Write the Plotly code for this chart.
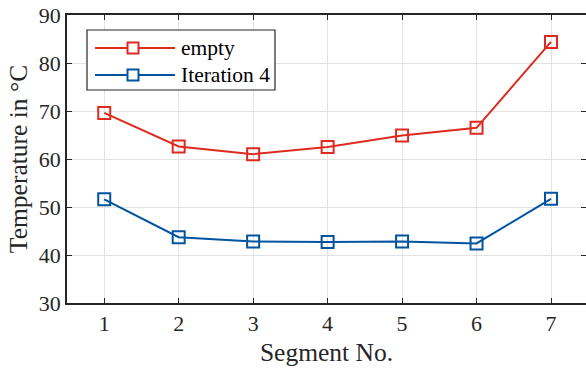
import plotly.graph_objects as go

segments = [1, 2, 3, 4, 5, 6, 7]
empty_vals = [69.6, 62.6, 61.0, 62.5, 64.9, 66.5, 84.4]
iter4_vals = [51.6, 43.7, 42.8, 42.7, 42.8, 42.4, 51.7]
series_names = ["empty", "Iteration 4"]
y_ticks = [30, 40, 50, 60, 70, 80, 90]

RED = "#DF2A20"
BLUE = "#00549F"
FONT = "Liberation Serif, Times New Roman, serif"
TXT = "#262626"

W, H = 586, 377
ML, MR, MT, MB = 67, 0, 15, 74
PW, PH = W - ML - MR, H - MT - MB

fig = go.Figure()
for vals, name, col in [(empty_vals, series_names[0], RED), (iter4_vals, series_names[1], BLUE)]:
    fig.add_trace(go.Scatter(
        x=segments, y=vals, name=name, mode="lines+markers",
        line=dict(color=col, width=2),
        marker=dict(symbol="square-open", size=12, color=col, line=dict(width=2, color=col)),
        showlegend=False,
    ))

# helpers: convert page-pixel positions to paper coords
def px_x(p):
    return (p - ML) / PW

def px_y(p):
    return (H - MB - p) / PH

shapes = []
annotations = []
shapes.append(dict(type="rect", xref="paper", yref="paper",
                   x0=px_x(87), x1=px_x(275), y0=px_y(90), y1=px_y(30),
                   line=dict(color=TXT, width=1.2), fillcolor="white", layer="above"))
for i, (name, col) in enumerate(zip(series_names, [RED, BLUE])):
    yy = 48 + i * 27
    shapes.append(dict(type="line", xref="paper", yref="paper",
                       x0=px_x(95), x1=px_x(175), y0=px_y(yy), y1=px_y(yy),
                       line=dict(color=col, width=2), layer="above"))
    shapes.append(dict(type="rect", xref="paper", yref="paper",
                       xsizemode="pixel", ysizemode="pixel",
                       xanchor=px_x(133), yanchor=px_y(yy),
                       x0=-5.5, x1=5.5, y0=-5.5, y1=5.5,
                       line=dict(color=col, width=2), fillcolor="white", layer="above"))
    annotations.append(dict(xref="paper", yref="paper", x=px_x(179), y=px_y(yy),
                            xanchor="left", yanchor="middle", text=name, showarrow=False,
                            font=dict(family=FONT, size=21.5, color="black")))

fig.update_layout(
    width=W, height=H,
    margin=dict(l=ML, r=MR, t=MT, b=MB, pad=0),
    paper_bgcolor="white", plot_bgcolor="white",
    font=dict(family=FONT, size=22, color=TXT),
    shapes=shapes, annotations=annotations,
    hovermode=False,
    xaxis=dict(range=[0.5, 7.47], tickvals=segments, ticks="inside", ticklen=5,
               tickcolor=TXT, showline=True, linecolor=TXT, linewidth=1.5, mirror="ticks",
               showgrid=True, gridcolor="#E3E3E3", gridwidth=1, zeroline=False,
               automargin=False, ticklabeloverflow="allow",
               title=dict(text="Segment No.", font=dict(family=FONT, size=25.5, color=TXT), standoff=8),
               tickfont=dict(family=FONT, size=22, color=TXT)),
    yaxis=dict(range=[30, 90], tickvals=y_ticks, ticks="inside", ticklen=5,
               tickcolor=TXT, showline=True, linecolor=TXT, linewidth=1.5, mirror="ticks",
               showgrid=True, gridcolor="#E3E3E3", gridwidth=1, zeroline=False,
               automargin=False, ticklabeloverflow="allow",
               title=dict(text="Temperature in °C", font=dict(family=FONT, size=25.5, color=TXT), standoff=4),
               tickfont=dict(family=FONT, size=22, color=TXT)),
)

fig.write_html("out.html",
               config={"displayModeBar": False},
               post_script="document.body.style.margin='0';document.body.style.overflow='hidden';")
